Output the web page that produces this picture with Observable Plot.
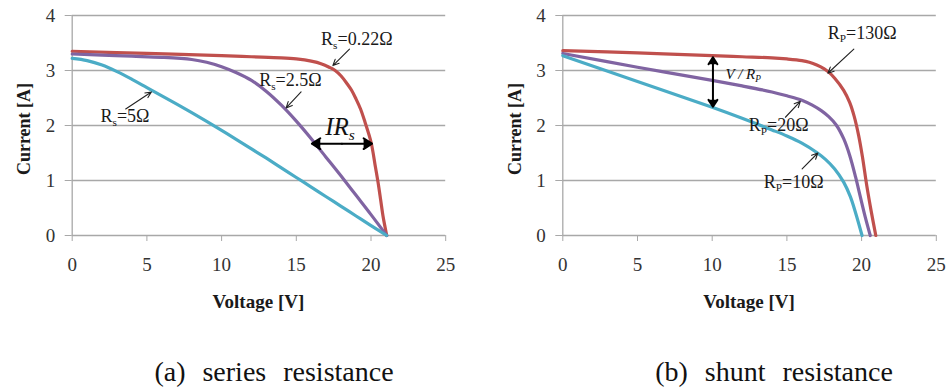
<!DOCTYPE html>
<html>
<head>
<meta charset="utf-8">
<script src="https://cdn.jsdelivr.net/npm/d3@7"></script>
<script src="https://cdn.jsdelivr.net/npm/@observablehq/plot@0.6"></script>
<style>
  html, body { margin: 0; padding: 0; background: #fff; }
  body { width: 949px; height: 389px; position: relative; overflow: hidden; font-family: "Liberation Serif", "Times New Roman", Tinos, "DejaVu Serif", serif; }
  #panelA { position: absolute; left: 0; top: 0; }
  #panelB { position: absolute; left: 474px; top: 0; }
  .cap { position: absolute; top: 358px; width: 320px; text-align: center; font-size: 28px; line-height: 28px; word-spacing: 10px; color: #111; white-space: nowrap; }
  svg text { font-family: "Liberation Serif", "Times New Roman", Tinos, "DejaVu Serif", serif; }
</style>
</head>
<body>
<div id="panelA"></div>
<div id="panelB"></div>
<div class="cap" id="capA" style="left:114px">(a) series resistance</div>
<div class="cap" id="capB" style="left:614px">(b) shunt resistance</div>
<script>
// ---------- axes ----------
const voltageTicks = [0, 5, 10, 15, 20, 25];
const currentTicks = [0, 1, 2, 3, 4];
const xTitle = "Voltage [V]";
const yTitle = "Current [A]";

// ---------- (a) series resistance ----------
const rs022V = [0, 5, 10, 12, 14, 15, 16, 16.7, 17.2, 17.6, 18, 18.4, 18.7, 19, 19.3, 19.6, 20, 20.3, 20.5, 20.65, 20.8, 20.95, 21.05];
const rs022I = [3.35, 3.31, 3.27, 3.25, 3.23, 3.21, 3.17, 3.12, 3.06, 3.0, 2.9, 2.76, 2.64, 2.48, 2.30, 2.06, 1.70, 1.24, 0.92, 0.64, 0.36, 0.14, 0];
const rs25V = [0, 2, 4, 6, 8, 9, 10, 11, 12, 13, 14, 15, 16, 17, 18, 19, 20, 21.05];
const rs25I = [3.30, 3.28, 3.26, 3.24, 3.20, 3.15, 3.07, 2.96, 2.82, 2.62, 2.37, 2.08, 1.76, 1.42, 1.08, 0.73, 0.38, 0];
const rs5V = [0, 1, 2, 3, 4, 5, 6, 7, 8, 9, 10, 11, 12, 13, 14, 15, 16, 17, 18, 19, 20, 21.05];
const rs5I = [3.22, 3.18, 3.10, 2.98, 2.84, 2.69, 2.54, 2.39, 2.235, 2.075, 1.91, 1.745, 1.575, 1.405, 1.23, 1.055, 0.88, 0.705, 0.53, 0.355, 0.18, 0];

// ---------- (b) shunt resistance ----------
const rp130V = [0, 5, 10, 12, 14, 15, 16, 16.5, 17, 17.5, 17.8, 18.2, 18.8, 19.2, 19.5, 19.8, 20.05, 20.35, 20.65, 20.95];
const rp130I = [3.36, 3.32, 3.27, 3.25, 3.23, 3.21, 3.18, 3.15, 3.10, 3.03, 2.97, 2.86, 2.64, 2.42, 2.17, 1.82, 1.44, 0.90, 0.43, 0];
const rp20V = [0, 5, 10, 12, 14, 15, 16, 16.7, 17.3, 17.8, 18.3, 18.8, 19.2, 19.6, 19.9, 20.25, 20.58];
const rp20I = [3.31, 3.06, 2.82, 2.72, 2.61, 2.54, 2.46, 2.37, 2.27, 2.16, 2.01, 1.76, 1.46, 1.06, 0.72, 0.33, 0];
const rp10V = [0, 5, 10, 12, 14, 15, 16, 17, 17.6, 18.2, 18.8, 19.24, 19.6, 20.03];
const rp10I = [3.27, 2.80, 2.33, 2.13, 1.92, 1.81, 1.68, 1.51, 1.38, 1.21, 0.97, 0.71, 0.41, 0];

const curveColors = ["#c0504d", "#8064a2", "#4bacc6"];

// ---------- annotations (a) ----------
const labelsA = ["R_{s}=0.22Ω", "R_{s}=2.5Ω", "R_{s}=5Ω"];
const labelAX = [16.66, 12.52, 1.9];
const labelAY = [3.455, 2.71, 2.06];
const pointerAX1 = [18.56, 15.32, 3.58];
const pointerAY1 = [3.39, 2.61, 2.30];
const pointerAX2 = [17.45, 14.32, 5.3];
const pointerAY2 = [3.09, 2.32, 2.61];
const spanLabelA = "IR_{s}";
const spanLabelAX = 16.93, spanLabelAY = 1.836;
const spanAX = [16.04, 20.07], spanAY = [1.67, 1.67];

// ---------- annotations (b) ----------
const labelsB = ["R_{P}=130Ω", "R_{P}=20Ω", "R_{P}=10Ω"];
const labelBX = [17.74, 12.45, 13.45];
const labelBY = [3.58, 1.896, 0.867];
const pointerBX1 = [19.48, 14.9, 16.02];
const pointerBY1 = [3.39, 2.15, 1.21];
const pointerBX2 = [17.74, 15.9, 17.07];
const pointerBY2 = [2.95, 2.44, 1.50];
const spanLabelB = "V / R_{P}";
const spanLabelBX = 10.89, spanLabelBY = 2.85;
const spanBX = [10.05, 10.05], spanBY = [3.24, 2.34];

const gridColor = "#a8a8a8";
const serif = '"Liberation Serif", "Times New Roman", Tinos, "DejaVu Serif", serif';

function pts(v, i, k) { return v.map((x, j) => ({v: x, i: i[j], k})); }

function makePanel(cfg) {
  const rows = cfg.curves.flatMap((c, k) => pts(c[0], c[1], k));
  const labels = cfg.labels.map((t, j) => ({t, x: cfg.lx[j], y: cfg.ly[j]}));
  const pointers = cfg.px1.map((_, j) => ({x1: cfg.px1[j], y1: cfg.py1[j], x2: cfg.px2[j], y2: cfg.py2[j]}));
  const mx = (cfg.sx[0] + cfg.sx[1]) / 2, my = (cfg.sy[0] + cfg.sy[1]) / 2;
  const span = [
    {x1: mx, y1: my, x2: cfg.sx[0], y2: cfg.sy[0]},
    {x1: mx, y1: my, x2: cfg.sx[1], y2: cfg.sy[1]}
  ];
  const svg = Plot.plot({
    width: cfg.width, height: 310,
    marginLeft: cfg.ml, marginRight: cfg.mr, marginTop: 15, marginBottom: 75,
    style: {fontFamily: serif, fontSize: "19px", color: "#333", background: "white", overflow: "visible"},
    x: {domain: [0, 25], ticks: voltageTicks, tickFormat: d => String(d), tickSize: 6, tickPadding: 16, label: null},
    y: {domain: [0, 4], ticks: currentTicks, tickFormat: d => String(d), tickSize: 7, tickPadding: 10, label: null},
    marks: [
      Plot.ruleY(currentTicks, {stroke: gridColor, strokeWidth: 1.3}),
      Plot.ruleX([0], {stroke: gridColor, strokeWidth: 1.3}),
      Plot.line(rows, {x: "v", y: "i", z: "k", stroke: d => curveColors[d.k], strokeWidth: 3.2, curve: "catmull-rom"}),
      Plot.arrow(pointers, {x1: "x1", y1: "y1", x2: "x2", y2: "y2", stroke: "#222", strokeWidth: 1.1, headLength: 9, headAngle: 50}),
      Plot.arrow(span, {x1: "x1", y1: "y1", x2: "x2", y2: "y2", stroke: "#000", fill: "#000", strokeWidth: 2, headLength: 8, headAngle: 65}),
      Plot.text(labels, {x: "x", y: "y", text: "t", textAnchor: "start", lineAnchor: "bottom", fontSize: 18, fill: "#1a1a1a"}),
      Plot.text([{t: cfg.spanLabel, x: cfg.slx, y: cfg.sly}], {x: "x", y: "y", text: "t", textAnchor: "start", lineAnchor: "bottom", fontSize: cfg.spanFont, fontStyle: "italic", fill: "#111"})
    ]
  });
  return svg;
}

function applySubscripts(node) {
  node.querySelectorAll("text").forEach(el => {
    const t = el.textContent;
    if (!t.includes("_{")) return;
    const fs = parseFloat(getComputedStyle(el).fontSize) || 18;
    const parts = t.split(/(_\{[^}]*\})/).filter(Boolean);
    el.textContent = "";
    let down = 0;
    for (const p of parts) {
      const ts = document.createElementNS("http://www.w3.org/2000/svg", "tspan");
      if (p.startsWith("_{")) {
        ts.textContent = p.slice(2, -1);
        ts.setAttribute("font-size", (fs * 0.62).toFixed(1));
        const s = fs * 0.2;
        ts.setAttribute("dy", (s - down).toFixed(1));
        down = s;
      } else {
        ts.textContent = p;
        if (down) { ts.setAttribute("dy", (-down).toFixed(1)); down = 0; }
      }
      el.appendChild(ts);
    }
  });
}

function finish(node, cfg) {
  node.querySelectorAll('[aria-label*="axis"] line, [aria-label*="axis"] path').forEach(e => e.setAttribute("stroke", gridColor));
  const s = d3.select(node);
  s.append("text")
    .attr("transform", `translate(${cfg.ml - 41.5},129) rotate(-90)`)
    .attr("text-anchor", "middle").attr("font-weight", "bold").attr("font-size", 18)
    .attr("fill", "#1a1a1a").text(yTitle);
  s.append("text")
    .attr("x", cfg.ml + (cfg.width - cfg.ml - cfg.mr) / 2).attr("y", 308)
    .attr("text-anchor", "middle").attr("font-weight", "bold").attr("font-size", 19)
    .attr("fill", "#1a1a1a").text(xTitle);
  applySubscripts(node);
}

const cfgA = {
  width: 474, ml: 71.7, mr: 28.8,
  curves: [[rs022V, rs022I], [rs25V, rs25I], [rs5V, rs5I]],
  labels: labelsA, lx: labelAX, ly: labelAY,
  px1: pointerAX1, py1: pointerAY1, px2: pointerAX2, py2: pointerAY2,
  sx: spanAX, sy: spanAY, spanLabel: spanLabelA, slx: spanLabelAX, sly: spanLabelAY, spanFont: 25
};
const cfgB = {
  width: 475, ml: 88.3, mr: 13.2,
  curves: [[rp130V, rp130I], [rp20V, rp20I], [rp10V, rp10I]],
  labels: labelsB, lx: labelBX, ly: labelBY,
  px1: pointerBX1, py1: pointerBY1, px2: pointerBX2, py2: pointerBY2,
  sx: spanBX, sy: spanBY, spanLabel: spanLabelB, slx: spanLabelBX, sly: spanLabelBY, spanFont: 15
};

const a = makePanel(cfgA);
document.getElementById("panelA").appendChild(a);
finish(a, cfgA);
const b = makePanel(cfgB);
document.getElementById("panelB").appendChild(b);
finish(b, cfgB);
</script>
</body>
</html>
